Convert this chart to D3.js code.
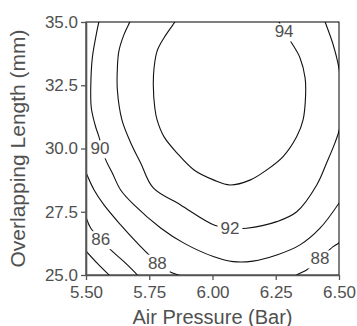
<!DOCTYPE html>
<html>
<head>
<meta charset="utf-8">
<script src="https://cdn.jsdelivr.net/npm/d3@7"></script>
<style>
  html, body { margin: 0; padding: 0; background: #fff; }
  svg { display: block; }
  text { font-family: "Liberation Sans", Arial, sans-serif; }
</style>
</head>
<body>
<svg id="chart" width="357" height="326"></svg>
<script>
// ---- data (pressure in Bar, length in mm) ----
const pressureTicks = [5.50, 5.75, 6.00, 6.25, 6.50];
const lengthTicks = [25.0, 27.5, 30.0, 32.5, 35.0];
const xTitle = "Air Pressure (Bar)";
const yTitle = "Overlapping Length (mm)";

// contour lines: [pressure, length]
const contour84 = [[5.495, 26.00], [5.545, 25.46], [5.591, 25.00], [5.597, 24.94]];
const contour86 = [[5.495, 27.43], [5.519, 26.85], [5.558, 26.42], [5.598, 25.99], [5.650, 25.53], [5.703, 25.00], [5.709, 24.92]];
const contour88a = [[5.495, 29.17], [5.532, 28.36], [5.571, 27.77], [5.637, 26.98], [5.703, 26.26], [5.782, 25.49], [5.835, 25.11], [5.875, 24.96], [5.883, 24.90]];
const contour88b = [[6.322, 24.88], [6.333, 25.00], [6.372, 25.20], [6.425, 25.66], [6.477, 26.12], [6.504, 26.29], [6.510, 26.33]];
const contour90 = [[5.553, 35.05], [5.551, 35.00], [5.538, 34.37], [5.525, 33.58], [5.519, 32.51], [5.521, 31.60], [5.538, 30.86],
  [5.551, 30.47], [5.563, 30.02], [5.578, 29.55], [5.604, 29.03], [5.637, 28.36], [5.690, 27.77], [5.795, 26.86],
  [5.887, 26.26], [6.006, 25.72], [6.082, 25.53], [6.160, 25.55], [6.254, 25.79], [6.346, 26.19], [6.425, 26.85],
  [6.504, 27.90], [6.510, 28.00]];
const contour92 = [[5.675, 35.05], [5.673, 35.00], [5.650, 34.50], [5.630, 33.85], [5.624, 33.18], [5.624, 32.31], [5.642, 31.13],
  [5.677, 30.22], [5.716, 29.43], [5.765, 28.45], [5.874, 27.77], [6.006, 26.98], [6.069, 26.85], [6.135, 26.85],
  [6.254, 27.11], [6.333, 27.50], [6.412, 28.56], [6.451, 29.43], [6.484, 30.22], [6.504, 30.86], [6.512, 32.00],
  [6.501, 33.11], [6.477, 34.10], [6.445, 35.00], [6.443, 35.05]];
const contour94 = [[5.853, 35.05], [5.851, 35.00], [5.808, 34.37], [5.781, 33.85], [5.769, 33.18], [5.766, 32.52], [5.772, 31.60],
  [5.781, 31.13], [5.808, 30.47], [5.860, 29.82], [5.927, 29.15], [6.006, 28.75], [6.069, 28.56], [6.148, 28.75],
  [6.214, 29.15], [6.279, 29.68], [6.333, 30.47], [6.358, 31.13], [6.368, 32.11], [6.366, 32.79], [6.346, 33.58],
  [6.313, 34.17], [6.283, 34.63], [6.263, 35.00], [6.261, 35.05]];
const contourLines = [contour84, contour86, contour88a, contour88b, contour90, contour92, contour94];

const labelLevels = [86, 88, 88, 90, 92, 94];
const labelPressure = [5.558, 5.782, 6.425, 5.555, 6.069, 6.283];
const labelLength = [26.42, 25.49, 25.66, 30.01, 26.88, 34.63];

// ---- layout ----
const svg = d3.select("#chart");
const mLeft = 86, mTop = 22, mRight = 339, mBottom = 275;
const x = d3.scaleLinear().domain([5.5, 6.5]).range([mLeft, mRight]);
const y = d3.scaleLinear().domain([25, 35]).range([mBottom, mTop]);
const textColor = "#505050";

svg.append("defs").append("clipPath").attr("id", "plotclip")
  .append("rect").attr("x", mLeft).attr("y", mTop).attr("width", mRight - mLeft).attr("height", mBottom - mTop);

const line = d3.line().x(d => x(d[0])).y(d => y(d[1])).curve(d3.curveCatmullRom.alpha(0.5));

svg.append("g").attr("clip-path", "url(#plotclip)")
  .selectAll("path").data(contourLines).join("path")
  .attr("d", line).attr("fill", "none").attr("stroke", "#111").attr("stroke-width", 1.1);

// contour labels with a white gap behind them
const labels = svg.append("g");
labelLevels.forEach((lv, i) => {
  const g = labels.append("g");
  const t = g.append("text")
    .attr("x", x(labelPressure[i])).attr("y", y(labelLength[i]))
    .attr("text-anchor", "middle").attr("dy", "0.36em")
    .attr("font-size", 17).attr("fill", textColor).text(lv);
  const bb = t.node().getBBox();
  g.insert("rect", "text")
    .attr("x", bb.x - 3).attr("y", bb.y + 1).attr("width", bb.width + 6).attr("height", bb.height - 1)
    .attr("fill", "#fff");
});

// frame
svg.append("rect").attr("x", mLeft).attr("y", mTop).attr("width", mRight - mLeft).attr("height", mBottom - mTop)
  .attr("fill", "none").attr("stroke", "#000").attr("stroke-width", 1);

// axes
const xAxis = svg.append("g").attr("transform", `translate(0,${mBottom})`)
  .call(d3.axisBottom(x).tickValues(pressureTicks).tickFormat(d3.format(".2f")).tickSize(5).tickSizeOuter(0).tickPadding(6));
const yAxis = svg.append("g").attr("transform", `translate(${mLeft},0)`)
  .call(d3.axisLeft(y).tickValues(lengthTicks).tickFormat(d3.format(".1f")).tickSize(5).tickSizeOuter(0).tickPadding(3));
[xAxis, yAxis].forEach(a => {
  a.select(".domain").attr("stroke", "#555").attr("stroke-width", 1.6);
  a.selectAll(".tick line").attr("stroke", "#555").attr("stroke-width", 1.3);
  a.selectAll(".tick text").attr("font-size", 17).attr("fill", textColor)
    .attr("font-family", "'Liberation Sans', Arial, sans-serif");
});

svg.append("text").attr("x", (mLeft + mRight) / 2).attr("y", 323.5)
  .attr("text-anchor", "middle").attr("font-size", 20).attr("fill", textColor).text(xTitle);
svg.append("text").attr("transform", "rotate(-90)")
  .attr("x", -(mTop + mBottom) / 2).attr("y", 25)
  .attr("text-anchor", "middle").attr("font-size", 21).attr("fill", textColor).text(yTitle);
</script>
</body>
</html>
